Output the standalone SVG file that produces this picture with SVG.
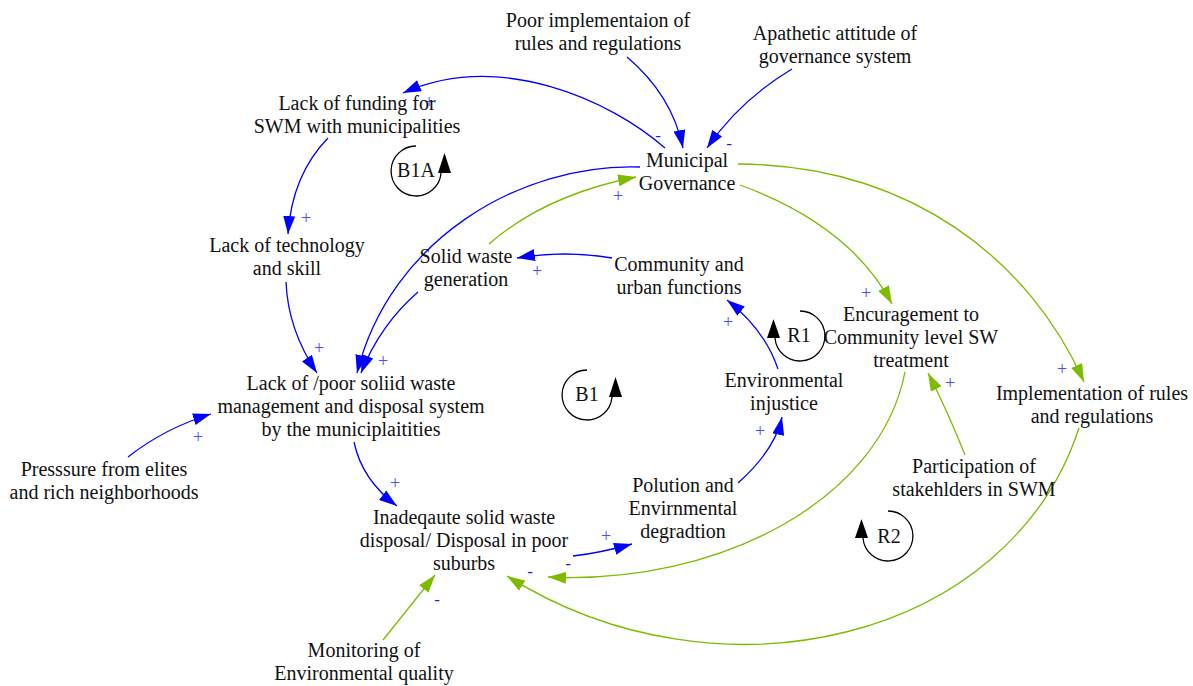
<svg xmlns="http://www.w3.org/2000/svg" xmlns:xlink="http://www.w3.org/1999/xlink" width="1193" height="686" viewBox="0 0 1193 686">
  <style>
    .lbl { font-family: "Liberation Serif", "Times New Roman", serif; font-size: 20px; fill: #111; text-anchor: middle; }
    .pos { font-family: "Liberation Serif", serif; font-size: 18px; fill: #4c4cff; text-anchor: middle; }
    .neg { font-family: "Liberation Serif", serif; font-size: 17px; fill: #1a1aee; text-anchor: middle; }
    .blue { fill: none; stroke: #0000ff; stroke-width: 1.3; marker-end: url(#arrowBlue); }
    .green { fill: none; stroke: #7dba00; stroke-width: 1.3; marker-end: url(#arrowGreen); }
    .loop { fill: none; stroke: #000; stroke-width: 1.3; }
  </style>
  <defs>
    <marker id="arrowBlue" viewBox="0 0 18 12" refX="18" refY="6" markerWidth="18" markerHeight="12" markerUnits="userSpaceOnUse" orient="auto">
      <path d="M0,0 L18,6 L0,12 z" fill="#0000ff"/>
    </marker>
    <marker id="arrowGreen" viewBox="0 0 18 12" refX="18" refY="6" markerWidth="18" markerHeight="12" markerUnits="userSpaceOnUse" orient="auto">
      <path d="M0,0 L18,6 L0,12 z" fill="#7dba00"/>
    </marker>
    <!-- balancing loop glyph: counter-clockwise arc, arrow on the right -->
    <g id="loopCCW">
      <path class="loop" d="M0,-25 A25,25 0 1 0 25,2"/>
      <polygon points="22,2 35,2 28.5,-18" fill="#000"/>
    </g>
    <!-- reinforcing loop glyph: clockwise arc, arrow on the left -->
    <g id="loopCW">
      <path class="loop" d="M0,-25 A25,25 0 1 1 -25,2"/>
      <polygon points="-33,2 -20,2 -26.5,-17" fill="#000"/>
    </g>
  </defs>

  <rect width="1193" height="686" fill="#fff"/>

  <!-- causal links -->
  <g id="links">
    <path class="blue" d="M665,148 C610,100 500,50 403,93"/>
    <path class="blue" d="M627,57 Q672,95 683,148"/>
    <path class="blue" d="M792,69 Q740,100 707,148"/>
    <path class="blue" d="M328,138 Q292,175 288,234"/>
    <path class="blue" d="M286,282 Q288,330 317,373"/>
    <path class="blue" d="M640,167 C520,163 390,240 357,373"/>
    <path class="blue" d="M418,292 Q380,325 361,373"/>
    <path class="green" d="M489,244 Q545,195 636,177"/>
    <path class="blue" d="M612,258 Q565,250 517,258"/>
    <path class="blue" d="M778,369 Q765,330 727,300"/>
    <path class="blue" d="M738,483 Q775,450 782,417"/>
    <path class="blue" d="M573,556 Q600,553 632,544"/>
    <path class="green" d="M905,372 C880,500 720,585 548,577"/>
    <path class="green" d="M1079,428 C1010,640 720,710 507,576"/>
    <path class="green" d="M740,185 Q850,225 892,304"/>
    <path class="green" d="M738,164 C910,165 1030,260 1084,382"/>
    <path class="green" d="M965,455 Q948,412 928,373"/>
    <path class="blue" d="M128,457 Q165,428 211,414"/>
    <path class="blue" d="M354,442 Q362,480 397,506"/>
    <path class="green" d="M383,640 L435,575"/>
  </g>

  <!-- link polarities -->
  <g id="polarities">
    <text class="pos" x="429" y="108">+</text>
    <text class="pos" x="306" y="224">+</text>
    <text class="pos" x="319" y="354">+</text>
    <text class="pos" x="383" y="367">+</text>
    <text class="pos" x="537" y="277">+</text>
    <text class="pos" x="618" y="202">+</text>
    <text class="pos" x="728" y="328">+</text>
    <text class="pos" x="760" y="437">+</text>
    <text class="pos" x="606" y="542">+</text>
    <text class="pos" x="866" y="299">+</text>
    <text class="pos" x="1062" y="375">+</text>
    <text class="pos" x="950" y="389">+</text>
    <text class="pos" x="198" y="443">+</text>
    <text class="pos" x="395" y="489">+</text>
    <text class="neg" x="658" y="141">-</text>
    <text class="neg" x="729" y="149">-</text>
    <text class="neg" x="568" y="569">-</text>
    <text class="neg" x="530" y="577">-</text>
    <text class="neg" x="437" y="605">-</text>
  </g>

  <!-- variables -->
  <g id="poor-implementation"><text class="lbl" x="598" y="27">Poor implementaion of</text><text class="lbl" x="598" y="50">rules and regulations</text></g>
  <g id="apathetic-attitude"><text class="lbl" x="835" y="40">Apathetic attitude of</text><text class="lbl" x="835" y="63">governance system</text></g>
  <g id="lack-of-funding"><text class="lbl" x="357" y="110">Lack of funding for</text><text class="lbl" x="357" y="133">SWM with municipalities</text></g>
  <g id="municipal-governance"><text class="lbl" x="687" y="167">Municipal</text><text class="lbl" x="687" y="190">Governance</text></g>
  <g id="lack-of-technology"><text class="lbl" x="287" y="252">Lack of technology</text><text class="lbl" x="287" y="275">and skill</text></g>
  <g id="solid-waste-generation"><text class="lbl" x="466" y="263">Solid waste</text><text class="lbl" x="466" y="286">generation</text></g>
  <g id="community-functions"><text class="lbl" x="679" y="271">Community and</text><text class="lbl" x="679" y="294">urban functions</text></g>
  <g id="community-treatment"><text class="lbl" x="911" y="321">Encuragement to</text><text class="lbl" x="911" y="344">Community level SW</text><text class="lbl" x="911" y="367">treatment</text></g>
  <g id="poor-swm-system"><text class="lbl" x="351" y="390">Lack of /poor soliid waste</text><text class="lbl" x="351" y="413">management and disposal system</text><text class="lbl" x="351" y="436">by the municiplaitities</text></g>
  <g id="environmental-injustice"><text class="lbl" x="784" y="387">Environmental</text><text class="lbl" x="784" y="410">injustice</text></g>
  <g id="implementation-of-rules"><text class="lbl" x="1092" y="400">Implementation of rules</text><text class="lbl" x="1092" y="423">and regulations</text></g>
  <g id="elite-pressure"><text class="lbl" x="104" y="476">Presssure from elites</text><text class="lbl" x="104" y="499">and rich neighborhoods</text></g>
  <g id="stakeholder-participation"><text class="lbl" x="974" y="473">Participation of</text><text class="lbl" x="974" y="496">stakehlders in SWM</text></g>
  <g id="pollution"><text class="lbl" x="683" y="492">Polution and</text><text class="lbl" x="683" y="515">Envirnmental</text><text class="lbl" x="683" y="538">degradtion</text></g>
  <g id="inadequate-disposal"><text class="lbl" x="464" y="524">Inadeqaute solid waste</text><text class="lbl" x="464" y="547">disposal/ Disposal in poor</text><text class="lbl" x="464" y="570">suburbs</text></g>
  <g id="environmental-monitoring"><text class="lbl" x="364" y="657">Monitoring of</text><text class="lbl" x="364" y="680">Environmental quality</text></g>

  <!-- loop markers -->
  <g id="loop-B1A"><use xlink:href="#loopCCW" x="416" y="171"/><text class="lbl" x="416" y="177">B1A</text></g>
  <g id="loop-B1"><use xlink:href="#loopCCW" x="587" y="395"/><text class="lbl" x="587" y="401">B1</text></g>
  <g id="loop-R1"><use xlink:href="#loopCW" x="800" y="336"/><text class="lbl" x="799" y="342">R1</text></g>
  <g id="loop-R2"><use xlink:href="#loopCW" x="888" y="536"/><text class="lbl" x="889" y="543">R2</text></g>
</svg>
